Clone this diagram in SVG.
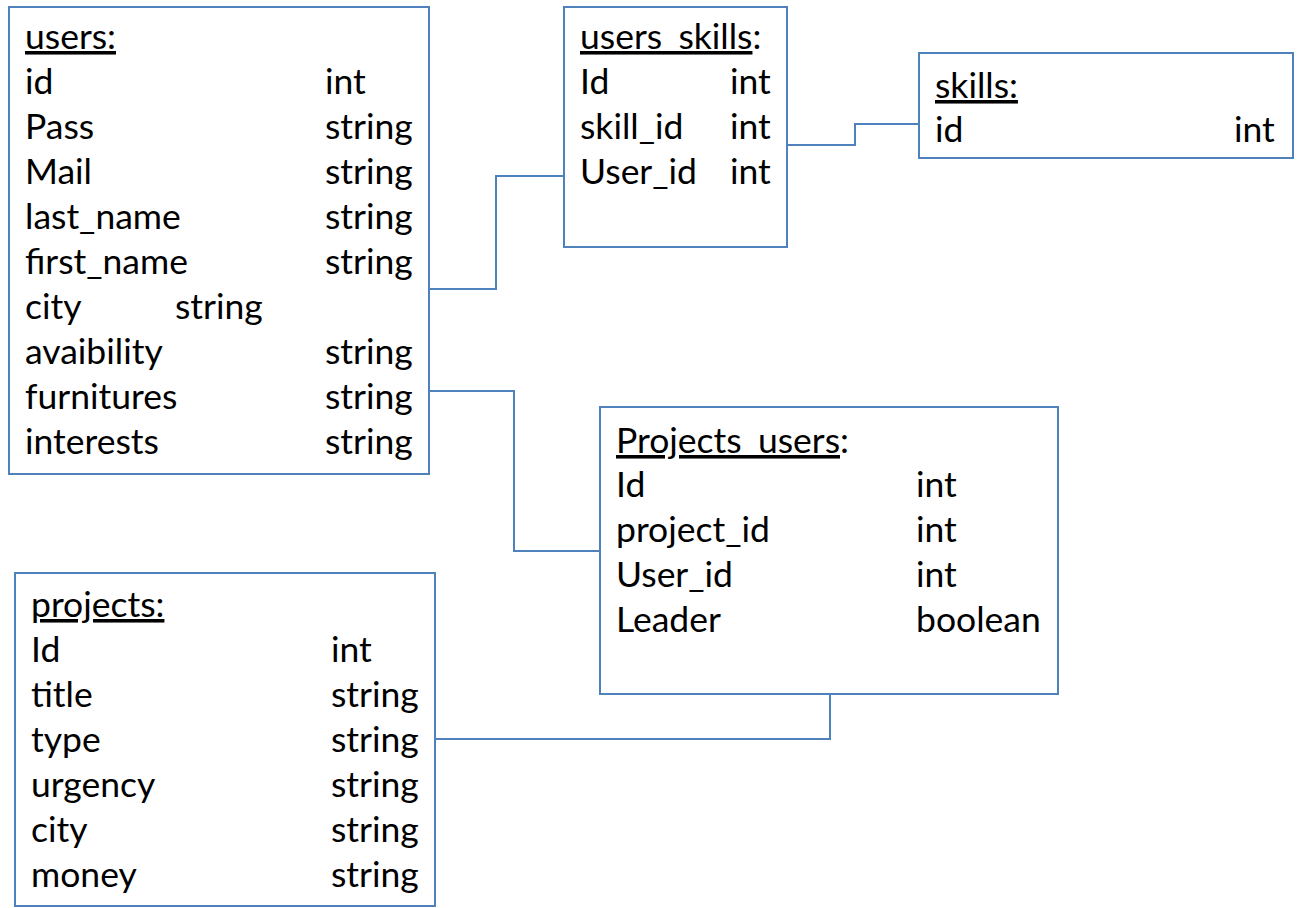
<svg xmlns="http://www.w3.org/2000/svg" width="1300" height="908" viewBox="0 0 1300 908">
<style>
.box{fill:#fff;stroke:#4f81bd;stroke-width:2}
.t{font-family:Lato,"Open Sans","Liberation Sans",sans-serif;font-size:35.5px;fill:#000}
.u{text-decoration:underline}
.c{fill:none;stroke:#4f81bd;stroke-width:2}
</style>
<rect width="1300" height="908" fill="#fff"/>
<g id="connectors">
<polyline class="c" points="429,289 496,289 496,176 564,176"/>
<polyline class="c" points="787,145 855,145 855,124 919,124"/>
<polyline class="c" points="429,391 514,391 514,551 600,551"/>
<polyline class="c" points="435,739 830,739 830,694"/>
</g>
<g id="users">
<rect class="box" x="9" y="7" width="420" height="467"/>
<text class="t u" x="25" y="49">users:</text>
<text class="t" x="25" y="94">id</text><text class="t" x="325" y="94">int</text>
<text class="t" x="25" y="139">Pass</text><text class="t" x="325" y="139">string</text>
<text class="t" x="25" y="184">Mail</text><text class="t" x="325" y="184">string</text>
<text class="t" x="25" y="229">last_name</text><text class="t" x="325" y="229">string</text>
<text class="t" x="25" y="274">first_name</text><text class="t" x="325" y="274">string</text>
<text class="t" x="25" y="319">city</text><text class="t" x="175" y="319">string</text>
<text class="t" x="25" y="364">avaibility</text><text class="t" x="325" y="364">string</text>
<text class="t" x="25" y="409">furnitures</text><text class="t" x="325" y="409">string</text>
<text class="t" x="25" y="454">interests</text><text class="t" x="325" y="454">string</text>
</g>
<g id="users_skills">
<rect class="box" x="564" y="7" width="223" height="240"/>
<text class="t" x="580" y="49"><tspan class="u">users_skills</tspan>:</text>
<text class="t" x="580" y="94">Id</text><text class="t" x="730" y="94">int</text>
<text class="t" x="580" y="139">skill_id</text><text class="t" x="730" y="139">int</text>
<text class="t" x="580" y="184">User_id</text><text class="t" x="730" y="184">int</text>
</g>
<g id="skills">
<rect class="box" x="919" y="53" width="374" height="105"/>
<text class="t u" x="935" y="98">skills:</text>
<text class="t" x="935" y="142">id</text><text class="t" x="1234" y="142">int</text>
</g>
<g id="projects_users">
<rect class="box" x="600" y="407" width="458" height="287"/>
<text class="t" x="616" y="453"><tspan class="u">Projects_users</tspan>:</text>
<text class="t" x="616" y="497">Id</text><text class="t" x="916" y="497">int</text>
<text class="t" x="616" y="542">project_id</text><text class="t" x="916" y="542">int</text>
<text class="t" x="616" y="587">User_id</text><text class="t" x="916" y="587">int</text>
<text class="t" x="616" y="632">Leader</text><text class="t" x="916" y="632">boolean</text>
</g>
<g id="projects">
<rect class="box" x="15" y="573" width="420" height="333"/>
<text class="t u" x="31" y="617">projects:</text>
<text class="t" x="31" y="662">Id</text><text class="t" x="331" y="662">int</text>
<text class="t" x="31" y="707">title</text><text class="t" x="331" y="707">string</text>
<text class="t" x="31" y="752">type</text><text class="t" x="331" y="752">string</text>
<text class="t" x="31" y="797">urgency</text><text class="t" x="331" y="797">string</text>
<text class="t" x="31" y="842">city</text><text class="t" x="331" y="842">string</text>
<text class="t" x="31" y="887">money</text><text class="t" x="331" y="887">string</text>
</g>
</svg>
